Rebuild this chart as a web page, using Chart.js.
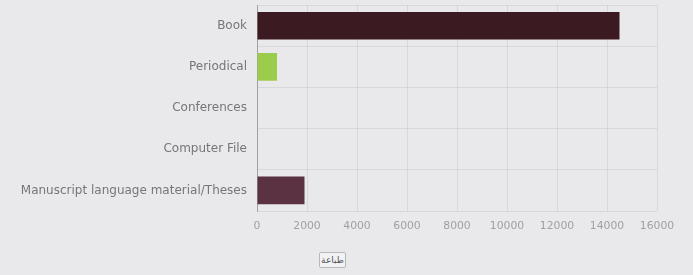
<!DOCTYPE html>
<html><head><meta charset="utf-8">
<script src="https://cdn.jsdelivr.net/npm/chart.js@4"></script>
<style>
html,body{margin:0;padding:0;background:#e9e9eb;width:693px;height:275px;overflow:hidden;font-family:"Liberation Sans",Arial,sans-serif;}
#wrap{position:absolute;left:0;top:-12px;width:693px;height:254px;}
#btn{position:absolute;left:319px;top:252px;width:27px;height:16px;box-sizing:border-box;border:1px solid #b8b8bc;border-radius:2px;background:#f2f2f4;font-size:9px;line-height:14px;text-align:center;color:#555;font-family:"DejaVu Sans",sans-serif;}
</style></head><body>
<div id="wrap"><canvas id="c"></canvas></div>
<div id="btn" dir="rtl" lang="ar">طباعة</div>
<script>
const categories = ["Book","Periodical","Conferences","Computer File","Manuscript language material/Theses"];
const values = [14500, 800, 0, 0, 1900];
const barColors = ["#3c1a22","#9ccc4c","#5a3a48","#5a3a48","#5a3242"];
const xTicks = [0,2000,4000,6000,8000,10000,12000,14000,16000];

new Chart(document.getElementById('c'), {
  type: 'bar',
  data: { labels: categories, datasets: [{ data: values, backgroundColor: barColors, borderWidth: 0, barPercentage: 0.8, categoryPercentage: 0.84 }] },
  options: {
    indexAxis: 'y', responsive: true, maintainAspectRatio: false, animation: false,
    layout: { padding: { left: 0, right: 36, top: 4, bottom: 0 } },
    plugins: { legend: { display: false }, tooltip: { enabled: false } },
    scales: {
      x: {
        min: 0, max: 16000,
        afterBuildTicks: s => { s.ticks = xTicks.map(v => ({ value: v })); },
        ticks: { color: '#a0a0a4', font: { size: 10.8, family: '"DejaVu Sans"' }, padding: 9, maxRotation: 0, callback: v => String(v) },
        grid: { color: 'rgba(0,0,0,0.07)', drawTicks: false },
        border: { display: false }
      },
      y: {
        afterFit: s => { s.width = 257; },
        ticks: { color: '#76767a', font: { size: 12, family: '"DejaVu Sans"' }, padding: 10 },
        grid: { color: 'rgba(0,0,0,0.07)', drawTicks: false },
        border: { color: '#a0a0a4' }
      }
    }
  }
});
</script>
</body></html>
